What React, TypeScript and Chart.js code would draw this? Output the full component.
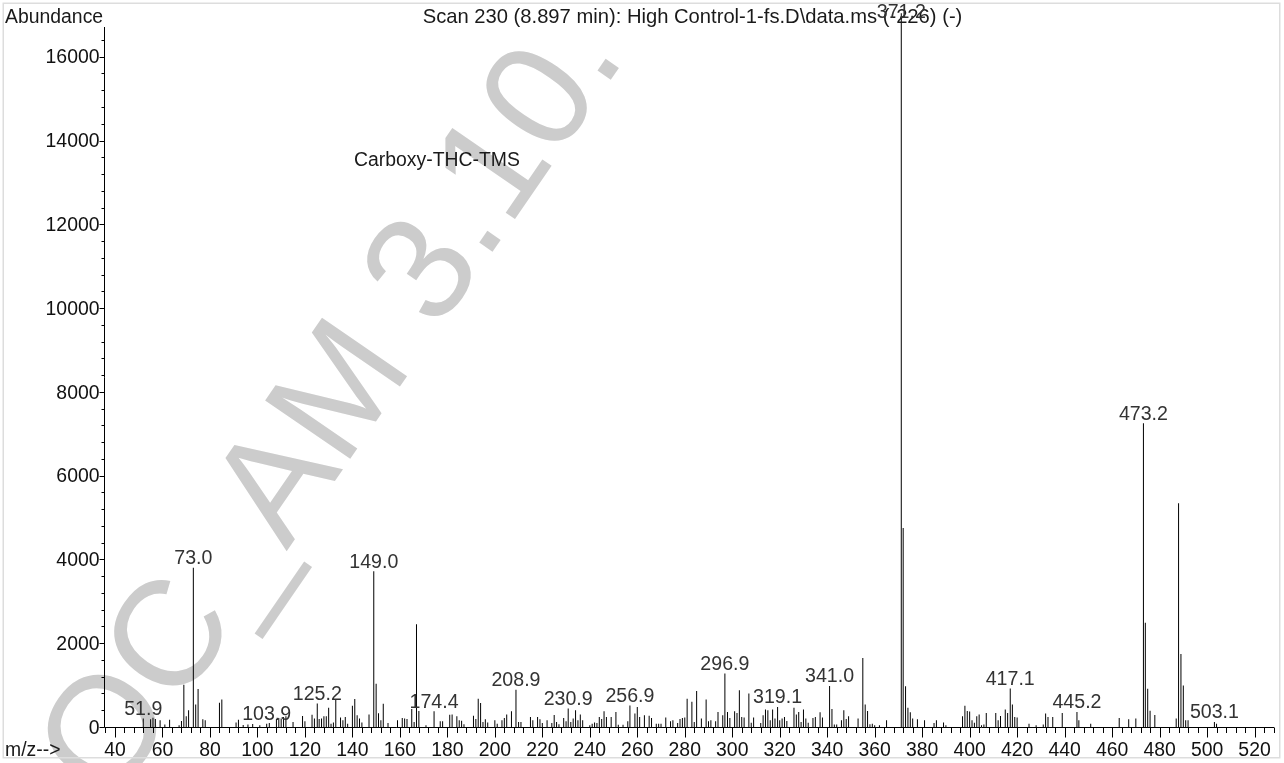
import React, { useEffect, useRef } from 'react';
import { Chart, registerables } from 'chart.js';

Chart.register(...registerables);

// ---- Texts ----
const titleText = 'Scan 230 (8.897 min): High Control-1-fs.D\\data.ms (-226) (-)';
const yAxisTitle = 'Abundance';
const xAxisTitle = 'm/z-->';
const compoundName = 'Carboxy-THC-TMS';
const watermarkText = 'DOC_AM 3.10.';

// ---- Axis ticks ----
const yTickValues = [0, 2000, 4000, 6000, 8000, 10000, 12000, 14000, 16000];
const xTickValues = [40, 60, 80, 100, 120, 140, 160, 180, 200, 220, 240, 260, 280, 300, 320, 340, 360, 380, 400, 420, 440, 460, 480, 500, 520];
const X_MIN = 35.37;
const X_MAX = 528.2;
const Y_MAX = 16710;

// ---- Spectrum (m/z and abundance), by region ----
const mzA = [51.9, 55, 56, 57, 59, 61, 63, 67, 68, 69, 70, 71, 73.0, 74, 75, 77, 78, 84, 85, 91, 92, 94, 96, 98];
const abA = [200, 185, 220, 190, 160, 60, 175, 40, 145, 1010, 255, 400, 3800, 540, 905, 185, 160, 580, 655, 110, 175, 50, 60, 70];

const mzB = [101, 103.9, 105, 108, 109, 110, 111, 112, 115, 119, 120, 123, 124, 125.2, 126, 127, 128, 129, 130, 131, 132, 133, 135, 136, 137, 138, 140, 141, 142, 143, 144, 147, 149.0, 150, 151, 152, 153, 155, 159, 161, 162, 163, 165, 166, 167, 168];
const abB = [40, 80, 95, 190, 215, 200, 240, 255, 120, 265, 135, 295, 205, 560, 190, 200, 255, 255, 460, 80, 110, 670, 225, 160, 240, 80, 510, 670, 280, 200, 110, 300, 3720, 1035, 330, 160, 555, 95, 160, 215, 200, 190, 430, 120, 2450, 380];

const mzC = [171, 174.4, 177, 178, 181, 182, 184, 185, 186, 187, 191, 192, 193, 194, 195, 196, 197, 200, 201, 203, 204, 205, 207, 208.9, 210, 211, 215, 216, 218, 219, 220, 222, 224, 225, 226, 227, 229, 230, 230.9, 232, 233, 234, 235, 236, 237, 240, 241, 242, 243, 244, 245, 246, 247, 249, 251, 252, 254, 256, 256.9, 259];
const abC = [40, 375, 135, 135, 295, 300, 255, 160, 150, 65, 270, 190, 675, 575, 120, 185, 110, 160, 80, 160, 215, 300, 375, 890, 120, 120, 240, 160, 240, 185, 95, 160, 95, 285, 120, 65, 215, 135, 440, 120, 200, 400, 160, 300, 160, 40, 80, 105, 95, 240, 190, 375, 240, 240, 360, 55, 55, 135, 515, 320];

const mzD = [260, 261, 263, 265, 266, 268, 269, 270, 272, 274, 275, 277, 278, 279, 280, 281, 283, 284, 285, 287, 289, 290, 291, 293, 294, 296, 296.9, 298, 299, 301, 302, 303, 304, 305, 307, 308, 309, 312, 313, 314, 315, 316, 317, 318, 319.1, 320, 321, 322, 323, 326, 327, 328, 329, 330, 331, 332, 334, 335, 337, 338, 341.0, 342, 343, 344];
const abD = [480, 240, 280, 270, 215, 80, 80, 80, 225, 135, 160, 95, 190, 215, 225, 675, 600, 120, 860, 200, 655, 135, 160, 135, 360, 280, 1275, 360, 215, 375, 335, 880, 240, 225, 800, 100, 225, 95, 280, 415, 400, 160, 415, 200, 480, 160, 200, 240, 145, 460, 300, 360, 120, 415, 200, 100, 215, 240, 350, 225, 980, 430, 60, 60];

const mzE = [346, 347, 348, 349, 353, 355, 356, 357, 358, 359, 360, 362, 365, 371.2, 372, 373, 374, 375, 376, 378, 381, 385, 386, 389, 390, 397, 398, 399, 400, 401, 402, 403, 404, 405, 406, 407, 411, 412, 413, 415, 416, 417.1, 418, 419, 420, 425, 428, 431, 432, 433, 435, 439, 445.2, 446, 451, 463, 467, 470, 473.2, 474, 475, 476, 478, 487, 488, 489, 490, 491, 492, 503.1, 504];
const abE = [160, 400, 190, 255, 200, 1650, 540, 380, 65, 80, 40, 40, 160, 17040, 4750, 970, 460, 350, 200, 185, 160, 95, 160, 110, 40, 255, 510, 380, 370, 160, 100, 255, 300, 40, 60, 335, 335, 160, 260, 420, 335, 920, 540, 240, 225, 80, 40, 60, 320, 240, 240, 335, 360, 160, 80, 215, 185, 200, 7250, 2490, 915, 385, 285, 200, 5340, 1740, 990, 160, 160, 120, 80];

const mzValues = [...mzA, ...mzB, ...mzC, ...mzD, ...mzE];
const abundances = [...abA, ...abB, ...abC, ...abD, ...abE];

// peaks that carry an m/z label
const labeledPeaks = [51.9, 73.0, 103.9, 125.2, 149.0, 174.4, 208.9, 230.9, 256.9, 296.9, 319.1, 341.0, 371.2, 417.1, 445.2, 473.2, 503.1];

const FONT = '"Liberation Sans", Arial, Helvetica, sans-serif';
const FS = 19.4;

const decorPlugin = {
  id: 'msDecor',
  beforeDraw(chart: any) {
    const ctx = chart.ctx as CanvasRenderingContext2D;
    ctx.save();
    ctx.fillStyle = '#ffffff';
    ctx.fillRect(0, 0, chart.width, chart.height);
    // watermark
    ctx.translate(50.5, 894.9);
    ctx.rotate((-55.5 * Math.PI) / 180);
    ctx.font = `150px ${FONT}`;
    ctx.fillStyle = '#cccccc';
    ctx.textAlign = 'left';
    ctx.textBaseline = 'alphabetic';
    ctx.fillText(watermarkText, 0, 0);
    ctx.restore();
  },
  afterDatasetsDraw(chart: any) {
    const ctx = chart.ctx as CanvasRenderingContext2D;
    const area = chart.chartArea;
    const xs = chart.scales.x;
    const ys = chart.scales.y;
    const left = Math.round(area.left) + 0.5;
    const bottom = Math.round(area.bottom) + 0.5;
    ctx.save();
    ctx.strokeStyle = '#000000';
    ctx.lineWidth = 1;
    ctx.beginPath();
    ctx.moveTo(left, area.top);
    ctx.lineTo(left, bottom);
    ctx.lineTo(area.right, bottom);
    // y ticks
    for (let v = 0; v <= Y_MAX; v += 400) {
      const py = Math.round(ys.getPixelForValue(v)) + 0.5;
      const len = v % 2000 === 0 ? 5 : 3;
      ctx.moveTo(left - len, py);
      ctx.lineTo(left, py);
    }
    // x ticks
    for (let v = 36; v <= X_MAX; v += 4) {
      const px = Math.round(xs.getPixelForValue(v)) + 0.5;
      const len = v % 20 === 0 ? 10 : 5.5;
      ctx.moveTo(px, bottom);
      ctx.lineTo(px, bottom + len);
    }
    ctx.stroke();

    ctx.font = `${FS}px ${FONT}`;
    ctx.fillStyle = '#111111';
    ctx.textBaseline = 'alphabetic';
    ctx.textAlign = 'right';
    yTickValues.forEach((v) => {
      ctx.fillText(String(v), left - 5, ys.getPixelForValue(v) + 6.7);
    });
    ctx.textAlign = 'center';
    xTickValues.forEach((v) => {
      ctx.fillText(String(v), xs.getPixelForValue(v), 756);
    });

    // titles
    ctx.fillStyle = '#1a1a1a';
    ctx.textAlign = 'left';
    ctx.fillText(yAxisTitle, 5, 23);
    ctx.fillText(xAxisTitle, 5, 756);
    ctx.fillText(compoundName, 354, 166);
    ctx.textAlign = 'center';
    ctx.font = `20.2px ${FONT}`;
    ctx.fillText(titleText, 692.5, 23);

    // peak labels
    ctx.font = `19.6px ${FONT}`;
    ctx.fillStyle = '#333333';
    labeledPeaks.forEach((m) => {
      const i = mzValues.indexOf(m);
      if (i < 0) return;
      const px = xs.getPixelForValue(m);
      const py = ys.getPixelForValue(abundances[i]);
      const base = Math.max(py - 3.5, area.top - 9);
      ctx.fillText(m.toFixed(1), px, base);
    });

    // light frame
    ctx.strokeStyle = '#dddddd';
    ctx.lineWidth = 1.5;
    ctx.strokeRect(3.25, 3.25, 1276.5, 754.5);
    ctx.restore();
  },
};

export default function App() {
  const ref = useRef<HTMLCanvasElement>(null);
  useEffect(() => {
    if (!ref.current) return;
    const chart = new Chart(ref.current, {
      type: 'bar',
      data: {
        datasets: [
          {
            data: mzValues.map((m, i) => ({ x: m, y: abundances[i] })),
            backgroundColor: '#000000',
            borderWidth: 0,
            barThickness: 1,
            inflateAmount: 0,
            grouped: false,
            clip: false,
          } as any,
        ],
      },
      options: {
        responsive: false,
        animation: false,
        devicePixelRatio: 1,
        events: [],
        layout: { padding: { left: 104, right: 10, top: 27, bottom: 36 } },
        plugins: { legend: { display: false }, tooltip: { enabled: false } },
        scales: {
          x: { type: 'linear', min: X_MIN, max: X_MAX, display: false, offset: false },
          y: { type: 'linear', min: 0, max: Y_MAX, display: false },
        },
      } as any,
      plugins: [decorPlugin],
    });
    return () => chart.destroy();
  }, []);
  return (
    <div style={{ position: 'fixed', left: 0, top: 0, width: 1284, height: 763 }}>
      <canvas ref={ref} width={1284} height={763} style={{ display: 'block', width: 1284, height: 763 }} />
    </div>
  );
}
